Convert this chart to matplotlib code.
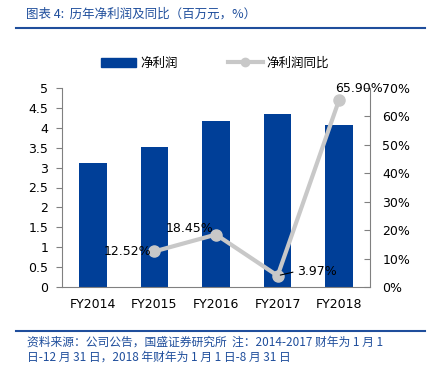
import matplotlib
matplotlib.use("Agg")
import matplotlib.pyplot as plt
from matplotlib.lines import Line2D
from matplotlib.patches import Patch

plt.rcParams['font.family'] = ['DejaVu Sans', 'Noto Sans CJK SC']

categories = ["FY2014", "FY2015", "FY2016", "FY2017", "FY2018"]
profit = [3.12, 3.52, 4.17, 4.35, 4.07]
yoy_cats = ["FY2015", "FY2016", "FY2017", "FY2018"]
yoy = [12.52, 18.45, 3.97, 65.90]
yoy_labels = ["12.52%", "18.45%", "3.97%", "65.90%"]
left_ticks = [0, 0.5, 1, 1.5, 2, 2.5, 3, 3.5, 4, 4.5, 5]
left_ticklabels = ["0", "0.5", "1", "1.5", "2", "2.5", "3", "3.5", "4", "4.5", "5"]
right_ticks = [0, 10, 20, 30, 40, 50, 60, 70]
right_ticklabels = ["0%", "10%", "20%", "30%", "40%", "50%", "60%", "70%"]

W, H = 428, 365
fig = plt.figure(figsize=(W/100, H/100), dpi=100)

def fx(px): return px / W
def fy(py): return 1 - py / H

blue = "#003f98"
gray = "#c8c8c8"
title_blue = "#1f4e9c"
cjk = ['Noto Sans CJK SC', 'DejaVu Sans']

ax = fig.add_axes([fx(62), fy(287), fx(370) - fx(62), fy(88) - fy(287)])
x = list(range(len(categories)))
ax.bar(x, profit, width=0.45, color=blue, zorder=2)
ax.set_xlim(-0.5, len(categories) - 0.5)
ax.set_ylim(0, 5)
ax.set_yticks(left_ticks)
ax.set_yticklabels(left_ticklabels)
ax.set_xticks(x)
ax.set_xticklabels(categories)
for s in ["top", "right"]:
    ax.spines[s].set_visible(False)
for s in ["left", "bottom"]:
    ax.spines[s].set_color("#808080")
ax.tick_params(axis="y", direction="out", length=4, color="#808080", labelsize=9, pad=6)
ax.tick_params(axis="x", length=0, labelsize=9, pad=8)

ax2 = ax.twinx()
xi = [categories.index(c) for c in yoy_cats]
ax2.plot(xi, yoy, color=gray, lw=3, marker="o", markersize=8, zorder=3)
ax2.set_ylim(0, 70)
ax2.set_yticks(right_ticks)
ax2.set_yticklabels(right_ticklabels)
for s in ["top", "left", "bottom"]:
    ax2.spines[s].set_visible(False)
ax2.spines["right"].set_color("#808080")
ax2.tick_params(axis="y", direction="in", length=4, color="#808080", labelsize=9, pad=9)

offsets = [(-2, 0, "right", "center"), (-2, 4.5, "right", "center"),
           (14, 3, "left", "center"), (-3, 3, "left", "bottom")]
for xx, yy, lab, (dx, dy, ha, va) in zip(xi, yoy, yoy_labels, offsets):
    ax2.annotate(lab, (xx, yy), xytext=(dx, dy), textcoords="offset points",
                 ha=ha, va=va, fontsize=9, zorder=5)
# leader line for 3.97%
ax2.annotate("", (xi[2], yoy[2]), xytext=(13, 3), textcoords="offset points",
             arrowprops=dict(arrowstyle="-", color="black", lw=0.8))

# legend
handles = [Patch(color=blue, label="净利润"),
           Line2D([0], [0], color=gray, lw=3, marker="o", markersize=6, label="净利润同比")]
leg = fig.legend(handles=handles, loc="center", bbox_to_anchor=(fx(215), fy(63)), ncol=2,
                 frameon=False, prop={'family': cjk, 'size': 9}, handlelength=2.8,
                 columnspacing=4, handletextpad=0.3)

# title
fig.text(fx(26), fy(14), "图表 4:  历年净利润及同比（百万元，%）", color=title_blue, fontsize=9,
         family=cjk, style="italic", ha="left", va="center")
fig.add_artist(Line2D([fx(16), fx(425)], [fy(28), fy(28)], color=title_blue, lw=1.5))

# footer
fig.add_artist(Line2D([fx(16), fx(425)], [fy(331), fy(331)], color=title_blue, lw=1.5))
fig.text(fx(27), fy(342), "资料来源：公司公告，国盛证券研究所  注：2014-2017 财年为 1 月 1",
         color=title_blue, fontsize=8.5, family=cjk, style="italic", ha="left", va="center")
fig.text(fx(27), fy(357), "日-12 月 31 日，2018 年财年为 1 月 1 日-8 月 31 日",
         color=title_blue, fontsize=8.5, family=cjk, style="italic", ha="left", va="center")

fig.savefig("out.png", dpi=100)
